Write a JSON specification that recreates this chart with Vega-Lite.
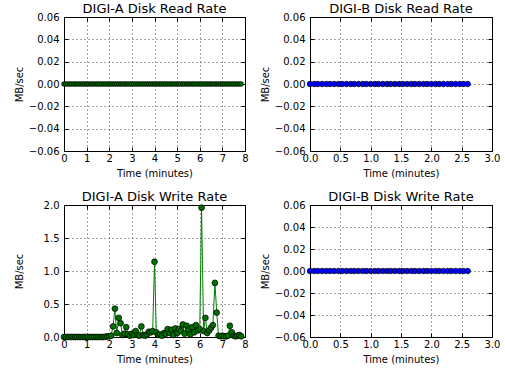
{
  "$schema": "https://vega.github.io/schema/vega-lite/v6.json",
  "padding": {"left": 13, "top": 2, "right": 2, "bottom": 2},
  "config": {
    "font": "DejaVu Sans",
    "view": {"stroke": "black", "strokeWidth": 1},
    "axis": {
      "domain": false,
      "grid": true,
      "gridColor": "black",
      "gridDash": [1, 3],
      "gridWidth": 0.7,
      "gridOpacity": 1,
      "tickColor": "black",
      "tickSize": -4,
      "tickWidth": 1,
      "labelColor": "black",
      "labelFont": "DejaVu Sans",
      "labelFontSize": 10,
      "labelFlush": false,
      "labelOverlap": false,
      "titleFont": "DejaVu Sans",
      "titleFontSize": 10,
      "titleFontWeight": "normal",
      "titleColor": "black"
    },
    "axisY": {"labelPadding": 9, "minExtent": 34, "maxExtent": 34, "titlePadding": 6},
    "axisX": {"labelPadding": 6, "titlePadding": 5},
    "title": {"font": "DejaVu Sans", "fontSize": 13, "fontWeight": "normal", "color": "black"}
  },
  "datasets": {
    "digiA": [
      {"t": 0, "read": 0, "write": 0}, {"t": 0.08, "read": 0, "write": 0}, {"t": 0.17, "read": 0, "write": 0}, {"t": 0.25, "read": 0, "write": 0},
      {"t": 0.33, "read": 0, "write": 0}, {"t": 0.42, "read": 0, "write": 0}, {"t": 0.5, "read": 0, "write": 0}, {"t": 0.58, "read": 0, "write": 0},
      {"t": 0.67, "read": 0, "write": 0}, {"t": 0.75, "read": 0, "write": 0}, {"t": 0.83, "read": 0, "write": 0}, {"t": 0.92, "read": 0, "write": 0},
      {"t": 1.0, "read": 0, "write": 0}, {"t": 1.08, "read": 0, "write": 0}, {"t": 1.17, "read": 0, "write": 0}, {"t": 1.25, "read": 0, "write": 0},
      {"t": 1.33, "read": 0, "write": 0}, {"t": 1.42, "read": 0, "write": 0}, {"t": 1.5, "read": 0, "write": 0}, {"t": 1.58, "read": 0, "write": 0},
      {"t": 1.67, "read": 0, "write": 0}, {"t": 1.75, "read": 0, "write": 0}, {"t": 1.83, "read": 0, "write": 0.005}, {"t": 1.92, "read": 0, "write": 0.01},
      {"t": 2.0, "read": 0, "write": 0.01}, {"t": 2.08, "read": 0, "write": 0.02}, {"t": 2.17, "read": 0, "write": 0.16}, {"t": 2.25, "read": 0, "write": 0.43},
      {"t": 2.33, "read": 0, "write": 0.06}, {"t": 2.42, "read": 0, "write": 0.29}, {"t": 2.5, "read": 0, "write": 0.21}, {"t": 2.58, "read": 0, "write": 0.03},
      {"t": 2.67, "read": 0, "write": 0.05}, {"t": 2.75, "read": 0, "write": 0.15}, {"t": 2.83, "read": 0, "write": 0.04}, {"t": 2.92, "read": 0, "write": 0.02},
      {"t": 3.0, "read": 0, "write": 0.05}, {"t": 3.08, "read": 0, "write": 0.03}, {"t": 3.17, "read": 0, "write": 0.09}, {"t": 3.25, "read": 0, "write": 0.03},
      {"t": 3.33, "read": 0, "write": 0.02}, {"t": 3.42, "read": 0, "write": 0.16}, {"t": 3.5, "read": 0, "write": 0.03}, {"t": 3.58, "read": 0, "write": 0.02},
      {"t": 3.67, "read": 0, "write": 0.04}, {"t": 3.75, "read": 0, "write": 0.08}, {"t": 3.83, "read": 0, "write": 0.07}, {"t": 3.92, "read": 0, "write": 0.09},
      {"t": 4.0, "read": 0, "write": 1.14}, {"t": 4.08, "read": 0, "write": 0.07}, {"t": 4.17, "read": 0, "write": 0.03}, {"t": 4.25, "read": 0, "write": 0.04},
      {"t": 4.33, "read": 0, "write": 0.02}, {"t": 4.42, "read": 0, "write": 0.06}, {"t": 4.5, "read": 0, "write": 0.05}, {"t": 4.58, "read": 0, "write": 0.12},
      {"t": 4.67, "read": 0, "write": 0.06}, {"t": 4.75, "read": 0, "write": 0.11}, {"t": 4.83, "read": 0, "write": 0.03}, {"t": 4.92, "read": 0, "write": 0.13},
      {"t": 5.0, "read": 0, "write": 0.06}, {"t": 5.08, "read": 0, "write": 0.12}, {"t": 5.17, "read": 0, "write": 0.09}, {"t": 5.25, "read": 0, "write": 0.19},
      {"t": 5.33, "read": 0, "write": 0.05}, {"t": 5.42, "read": 0, "write": 0.17}, {"t": 5.5, "read": 0, "write": 0.11}, {"t": 5.58, "read": 0, "write": 0.04},
      {"t": 5.67, "read": 0, "write": 0.15}, {"t": 5.75, "read": 0, "write": 0.07}, {"t": 5.83, "read": 0, "write": 0.18}, {"t": 5.92, "read": 0, "write": 0.1},
      {"t": 6.0, "read": 0, "write": 0.12}, {"t": 6.08, "read": 0, "write": 1.96}, {"t": 6.17, "read": 0, "write": 0.09}, {"t": 6.25, "read": 0, "write": 0.29},
      {"t": 6.33, "read": 0, "write": 0.06}, {"t": 6.42, "read": 0, "write": 0.1}, {"t": 6.5, "read": 0, "write": 0.14}, {"t": 6.58, "read": 0, "write": 0.18},
      {"t": 6.67, "read": 0, "write": 0.82}, {"t": 6.75, "read": 0, "write": 0.37}, {"t": 6.83, "read": 0, "write": 0.02}, {"t": 6.92, "read": 0, "write": 0.01},
      {"t": 7.0, "read": 0, "write": 0.02}, {"t": 7.08, "read": 0, "write": 0.01}, {"t": 7.17, "read": 0, "write": 0.01}, {"t": 7.25, "read": 0, "write": 0.02},
      {"t": 7.33, "read": 0, "write": 0.17}, {"t": 7.42, "read": 0, "write": 0.07}, {"t": 7.5, "read": 0, "write": 0.02}, {"t": 7.58, "read": 0, "write": 0.01},
      {"t": 7.67, "read": 0, "write": 0.02}, {"t": 7.75, "read": 0, "write": 0.03}, {"t": 7.83, "read": 0, "write": 0.01}
    ],
    "digiB": [
      {"t": 0, "read": 0, "write": 0}, {"t": 0.07, "read": 0, "write": 0}, {"t": 0.13, "read": 0, "write": 0}, {"t": 0.2, "read": 0, "write": 0},
      {"t": 0.27, "read": 0, "write": 0}, {"t": 0.33, "read": 0, "write": 0}, {"t": 0.4, "read": 0, "write": 0}, {"t": 0.47, "read": 0, "write": 0},
      {"t": 0.53, "read": 0, "write": 0}, {"t": 0.6, "read": 0, "write": 0}, {"t": 0.67, "read": 0, "write": 0}, {"t": 0.73, "read": 0, "write": 0},
      {"t": 0.8, "read": 0, "write": 0}, {"t": 0.87, "read": 0, "write": 0}, {"t": 0.93, "read": 0, "write": 0}, {"t": 1.0, "read": 0, "write": 0},
      {"t": 1.07, "read": 0, "write": 0}, {"t": 1.13, "read": 0, "write": 0}, {"t": 1.2, "read": 0, "write": 0}, {"t": 1.27, "read": 0, "write": 0},
      {"t": 1.33, "read": 0, "write": 0}, {"t": 1.4, "read": 0, "write": 0}, {"t": 1.47, "read": 0, "write": 0}, {"t": 1.53, "read": 0, "write": 0},
      {"t": 1.6, "read": 0, "write": 0}, {"t": 1.67, "read": 0, "write": 0}, {"t": 1.73, "read": 0, "write": 0}, {"t": 1.8, "read": 0, "write": 0},
      {"t": 1.87, "read": 0, "write": 0}, {"t": 1.93, "read": 0, "write": 0}, {"t": 2.0, "read": 0, "write": 0}, {"t": 2.07, "read": 0, "write": 0},
      {"t": 2.13, "read": 0, "write": 0}, {"t": 2.2, "read": 0, "write": 0}, {"t": 2.27, "read": 0, "write": 0}, {"t": 2.33, "read": 0, "write": 0},
      {"t": 2.4, "read": 0, "write": 0}, {"t": 2.47, "read": 0, "write": 0}, {"t": 2.53, "read": 0, "write": 0}, {"t": 2.6, "read": 0, "write": 0}
    ]
  },
  "concat": [
    {
      "width": 181, "height": 134,
      "title": {"text": "DIGI-A Disk Read Rate", "offset": -4},
      "data": {"name": "digiA"},
      "layer": [
        {
          "mark": {"type": "line", "color": "#008000", "strokeWidth": 1},
          "encoding": {
            "x": {"field": "t", "type": "quantitative", "scale": {"domain": [0, 8], "nice": false, "zero": false}, "axis": {"title": "Time (minutes)", "values": [0, 1, 2, 3, 4, 5, 6, 7, 8], "format": "d"}},
            "y": {"field": "read", "type": "quantitative", "scale": {"domain": [-0.06, 0.06], "nice": false, "zero": false}, "axis": {"title": "MB/sec", "values": [-0.06, -0.04, -0.02, 0, 0.02, 0.04, 0.06], "format": ".2f"}}
          }
        },
        {
          "mark": {"type": "point", "shape": "circle", "filled": true, "fill": "#007000", "stroke": "black", "strokeWidth": 0.7, "size": 22, "opacity": 1},
          "encoding": {
            "x": {"field": "t", "type": "quantitative", "axis": {"orient": "top", "labels": false, "grid": false, "title": null, "values": [0, 1, 2, 3, 4, 5, 6, 7, 8], "minExtent": 0, "maxExtent": 0}},
            "y": {"field": "read", "type": "quantitative", "axis": {"orient": "right", "labels": false, "grid": false, "title": null, "values": [-0.06, -0.04, -0.02, 0, 0.02, 0.04, 0.06], "minExtent": 0, "maxExtent": 0}}
          }
        }
      ],
      "resolve": {"axis": {"x": "independent", "y": "independent"}}
    },
    {
      "width": 182, "height": 134,
      "title": {"text": "DIGI-B Disk Read Rate", "offset": -4},
      "data": {"name": "digiB"},
      "layer": [
        {
          "mark": {"type": "line", "color": "#0000ff", "strokeWidth": 1},
          "encoding": {
            "x": {"field": "t", "type": "quantitative", "scale": {"domain": [0, 3], "nice": false, "zero": false}, "axis": {"title": "Time (minutes)", "values": [0, 0.5, 1, 1.5, 2, 2.5, 3], "format": ".1f"}},
            "y": {"field": "read", "type": "quantitative", "scale": {"domain": [-0.06, 0.06], "nice": false, "zero": false}, "axis": {"title": "MB/sec", "values": [-0.06, -0.04, -0.02, 0, 0.02, 0.04, 0.06], "format": ".2f"}}
          }
        },
        {
          "mark": {"type": "point", "shape": "circle", "filled": true, "fill": "#0000ff", "stroke": "black", "strokeWidth": 0.7, "size": 30, "opacity": 1},
          "encoding": {
            "x": {"field": "t", "type": "quantitative", "axis": {"orient": "top", "labels": false, "grid": false, "title": null, "values": [0, 0.5, 1, 1.5, 2, 2.5, 3], "minExtent": 0, "maxExtent": 0}},
            "y": {"field": "read", "type": "quantitative", "axis": {"orient": "right", "labels": false, "grid": false, "title": null, "values": [-0.06, -0.04, -0.02, 0, 0.02, 0.04, 0.06], "minExtent": 0, "maxExtent": 0}}
          }
        }
      ],
      "resolve": {"axis": {"x": "independent", "y": "independent"}}
    },
    {
      "width": 181, "height": 132,
      "title": {"text": "DIGI-A Disk Write Rate", "offset": -4},
      "data": {"name": "digiA"},
      "layer": [
        {
          "mark": {"type": "line", "color": "#008000", "strokeWidth": 1},
          "encoding": {
            "x": {"field": "t", "type": "quantitative", "scale": {"domain": [0, 8], "nice": false, "zero": false}, "axis": {"title": "Time (minutes)", "values": [0, 1, 2, 3, 4, 5, 6, 7, 8], "format": "d"}},
            "y": {"field": "write", "type": "quantitative", "scale": {"domain": [0, 2], "nice": false, "zero": false}, "axis": {"title": "MB/sec", "values": [0, 0.5, 1, 1.5, 2], "format": ".1f"}}
          }
        },
        {
          "mark": {"type": "point", "shape": "circle", "filled": true, "fill": "#007000", "stroke": "black", "strokeWidth": 0.7, "size": 34, "opacity": 1},
          "encoding": {
            "x": {"field": "t", "type": "quantitative", "axis": {"orient": "top", "labels": false, "grid": false, "title": null, "values": [0, 1, 2, 3, 4, 5, 6, 7, 8], "minExtent": 0, "maxExtent": 0}},
            "y": {"field": "write", "type": "quantitative", "axis": {"orient": "right", "labels": false, "grid": false, "title": null, "values": [0, 0.5, 1, 1.5, 2], "minExtent": 0, "maxExtent": 0}}
          }
        }
      ],
      "resolve": {"axis": {"x": "independent", "y": "independent"}}
    },
    {
      "width": 182, "height": 132,
      "title": {"text": "DIGI-B Disk Write Rate", "offset": -4},
      "data": {"name": "digiB"},
      "layer": [
        {
          "mark": {"type": "line", "color": "#0000ff", "strokeWidth": 1},
          "encoding": {
            "x": {"field": "t", "type": "quantitative", "scale": {"domain": [0, 3], "nice": false, "zero": false}, "axis": {"title": "Time (minutes)", "values": [0, 0.5, 1, 1.5, 2, 2.5, 3], "format": ".1f"}},
            "y": {"field": "write", "type": "quantitative", "scale": {"domain": [-0.06, 0.06], "nice": false, "zero": false}, "axis": {"title": "MB/sec", "values": [-0.06, -0.04, -0.02, 0, 0.02, 0.04, 0.06], "format": ".2f"}}
          }
        },
        {
          "mark": {"type": "point", "shape": "circle", "filled": true, "fill": "#0000ff", "stroke": "black", "strokeWidth": 0.7, "size": 30, "opacity": 1},
          "encoding": {
            "x": {"field": "t", "type": "quantitative", "axis": {"orient": "top", "labels": false, "grid": false, "title": null, "values": [0, 0.5, 1, 1.5, 2, 2.5, 3], "minExtent": 0, "maxExtent": 0}},
            "y": {"field": "write", "type": "quantitative", "axis": {"orient": "right", "labels": false, "grid": false, "title": null, "values": [-0.06, -0.04, -0.02, 0, 0.02, 0.04, 0.06], "minExtent": 0, "maxExtent": 0}}
          }
        }
      ],
      "resolve": {"axis": {"x": "independent", "y": "independent"}}
    }
  ],
  "columns": 2,
  "spacing": {"row": 11, "column": 10}
}
